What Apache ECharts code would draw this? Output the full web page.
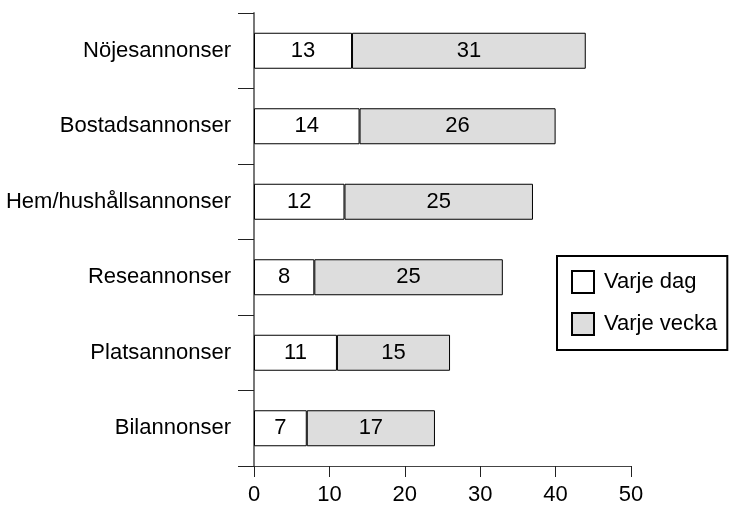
<!DOCTYPE html>
<html>
<head>
<meta charset="utf-8">
<script src="https://cdn.jsdelivr.net/npm/echarts@6/dist/echarts.min.js"></script>
<style>
  html, body { margin: 0; padding: 0; background: #fff; }
  #main { width: 729px; height: 508px; }
</style>
</head>
<body>
<div id="main"></div>
<script>
// data
var categories = ['Nöjesannonser', 'Bostadsannonser', 'Hem/hushållsannonser', 'Reseannonser', 'Platsannonser', 'Bilannonser'];
var dagValues = [13, 14, 12, 8, 11, 7];
var veckaValues = [31, 26, 25, 25, 15, 17];
var seriesNames = ['Varje dag', 'Varje vecka'];

var font = 'Liberation Sans, Arial, sans-serif';

var myChart = echarts.init(document.getElementById('main'));

var option = {
    animation: false,
    textStyle: { fontFamily: font },
    grid: { left: 254, right: 98, top: 13, bottom: 42 },
    legend: {
        orient: 'vertical',
        left: 557,
        top: 256,
        borderColor: '#000',
        borderWidth: 2,
        padding: [14, 10, 14, 14],
        itemWidth: 22,
        itemHeight: 22,
        itemGap: 18,
        icon: 'rect',
        itemStyle: { borderColor: '#000', borderWidth: 2 },
        textStyle: { fontSize: 22, color: '#000', fontFamily: font, padding: [0, 0, 0, 5] },
        data: seriesNames
    },
    xAxis: {
        type: 'value',
        min: 0,
        max: 50,
        interval: 10,
        axisLine: { show: true, lineStyle: { color: '#444', width: 1 } },
        axisTick: { show: true, length: 11, lineStyle: { color: '#222' } },
        axisLabel: { fontSize: 22, color: '#000', margin: 18, fontFamily: font },
        splitLine: { show: false }
    },
    yAxis: {
        type: 'category',
        inverse: true,
        data: categories,
        axisLine: { show: true, lineStyle: { color: '#777', width: 2 } },
        axisTick: { show: true, length: 16, lineStyle: { color: '#222' } },
        axisLabel: { fontSize: 22, color: '#000', margin: 23, fontFamily: font },
        splitLine: { show: false }
    },
    series: [{
        name: seriesNames[0],
        type: 'bar',
        stack: 'total',
        barWidth: 36,
        data: dagValues,
        itemStyle: { color: '#ffffff', borderColor: '#000', borderWidth: 1 },
        label: { show: true, position: 'inside', fontSize: 22, color: '#000', fontFamily: font }
    }, {
        name: seriesNames[1],
        type: 'bar',
        stack: 'total',
        barWidth: 36,
        data: veckaValues,
        itemStyle: { color: '#dddddd', borderColor: '#000', borderWidth: 1 },
        label: { show: true, position: 'inside', fontSize: 22, color: '#000', fontFamily: font }
    }]
};

myChart.setOption(option);
</script>
</body>
</html>
